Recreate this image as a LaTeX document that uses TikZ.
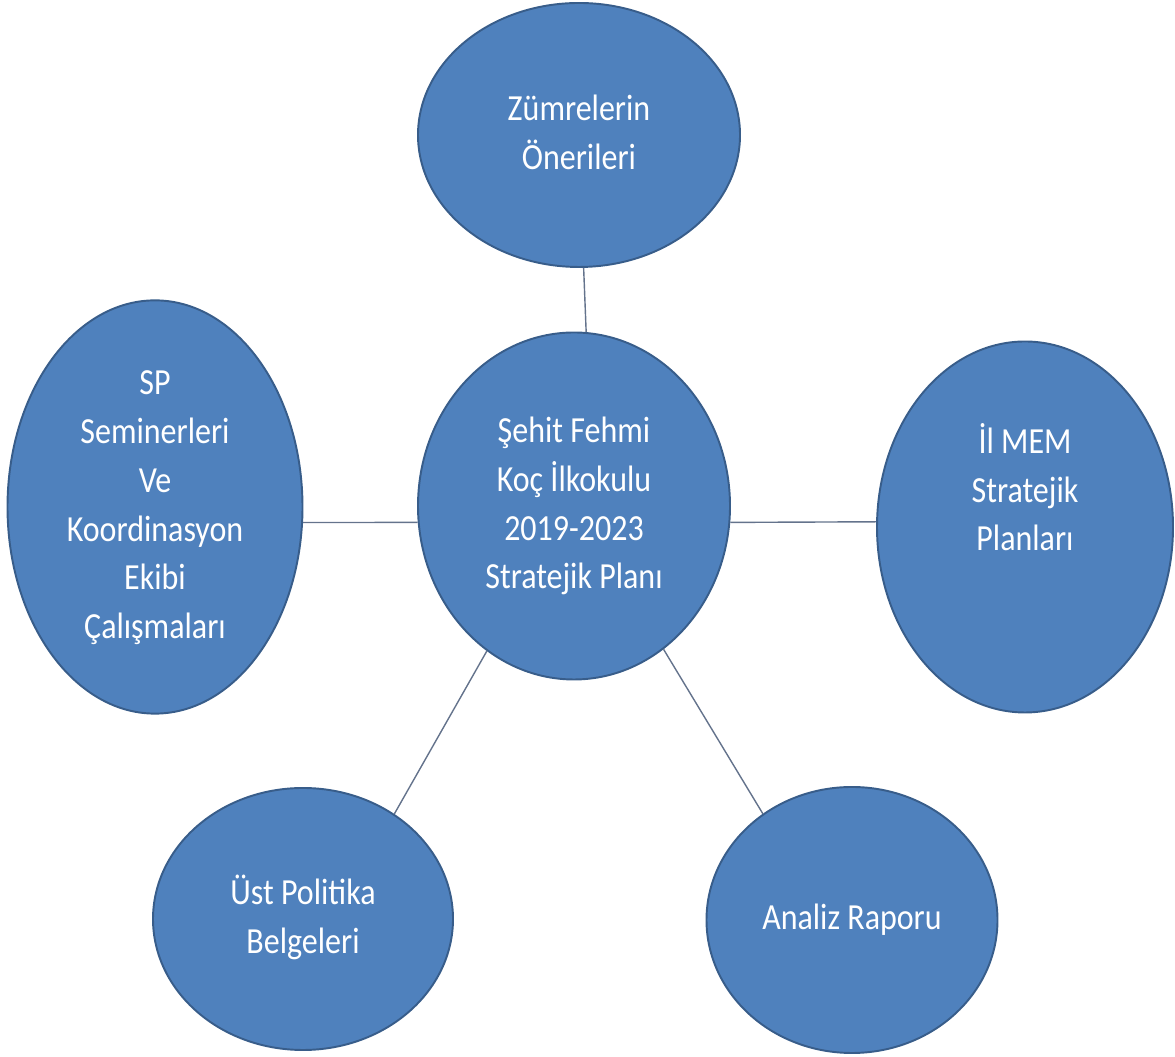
\documentclass[tikz,border=0pt]{standalone}
\usepackage{fontspec}
\setmainfont{Carlito}
\usepackage{graphicx}
\usetikzlibrary{shapes.geometric}
\definecolor{bubblefill}{RGB}{79,129,189}
\definecolor{bubbleline}{RGB}{56,93,138}
\definecolor{linkgray}{RGB}{100,115,140}
\newcommand{\bubbletext}[1]{\scalebox{1}[1.15]{\fontsize{18.2}{24.1}\selectfont\begin{tabular}{@{}c@{}}#1\end{tabular}}}
\begin{document}
\begin{tikzpicture}[
  bubble/.style={ellipse, draw=bubbleline, line width=1.1pt, fill=bubblefill, inner sep=0pt, text=white},
  link/.style={draw=linkgray, line width=0.8pt}]
\useasboundingbox (0,0) rectangle (23.5,21.14);
% the six ellipses
\node[bubble, minimum width=6.44cm, minimum height=5.28cm] (oneri) at (11.58,18.44) {\bubbletext{Zümrelerin\\Önerileri}};
\node[bubble, minimum width=6.24cm, minimum height=6.94cm] (plan) at (11.48,11.02) {\bubbletext{Şehit Fehmi\\Koç İlkokulu\\2019-2023\\Stratejik Planı}};
\node[bubble, minimum width=5.90cm, minimum height=6.88cm] (seminer) at (3.10,11.00) {\bubbletext{SP\\Seminerleri\\Ve\\Koordinasyon\\Ekibi\\Çalışmaları}};
\node[bubble, minimum width=5.92cm, minimum height=7.42cm] (mem) at (20.50,10.60) {\bubbletext{İl MEM\\Stratejik\\Planları\\[10pt]\mbox{}}};
\node[bubble, minimum width=6.00cm, minimum height=5.24cm] (politika) at (6.06,2.76) {\bubbletext{Üst Politika\\Belgeleri}};
\node[bubble, minimum width=5.82cm, minimum height=5.32cm] (analiz) at (17.04,2.74) {\bubbletext{Analiz Raporu}};
% connectors
\draw[link] (oneri.272) -- (plan.86.5);
\draw[link] (seminer.354) -- (plan.186);
\draw[link] (plan.354) -- (mem.178);
\draw[link] (plan.239) -- (politika.49);
\draw[link] (plan.302) -- (analiz.130);
\end{tikzpicture}
\end{document}
